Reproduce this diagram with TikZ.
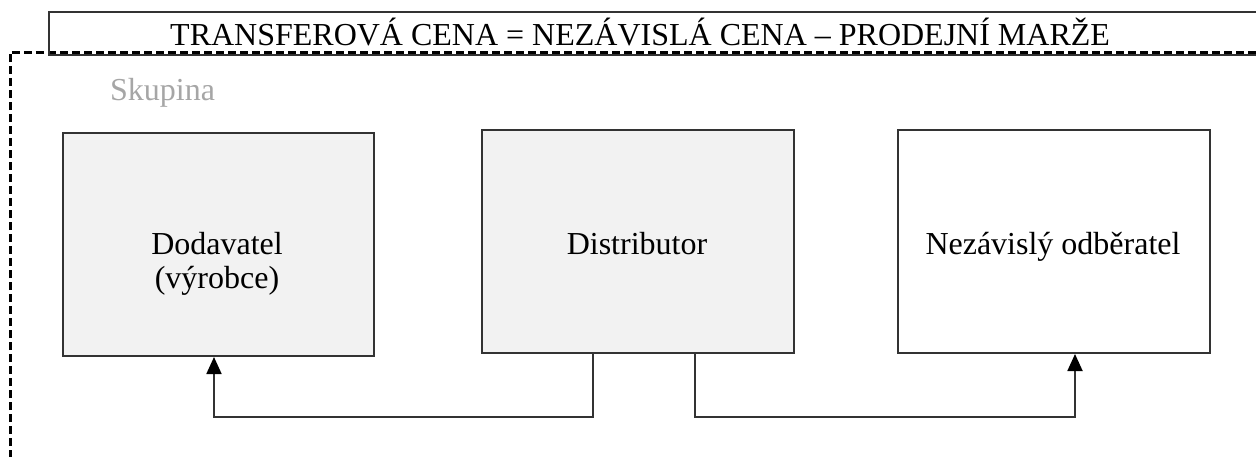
\documentclass[tikz,border=0pt]{standalone}
\usepackage{fontspec}
\setmainfont{Liberation Serif}
\usetikzlibrary{arrows.meta}
\definecolor{linegray}{HTML}{333333}
\definecolor{boxfill}{HTML}{F2F2F2}
\definecolor{labelgray}{HTML}{A6A6A6}
\tikzset{
  x=1pt, y=-1pt,
  entity/.style={draw=linegray, line width=2pt, inner sep=0pt, anchor=north west},
  grouped/.style={entity, fill=boxfill},
  boxtext/.style={font=\fontsize{32}{34}\selectfont, align=center, inner sep=0pt},
  flow/.style={draw=linegray, line width=1.8pt},
  flowarrow/.style={flow, -{Triangle[width=15pt,length=17pt,color=black]}},
  groupframe/.style={draw=black, line width=3pt, dash pattern=on 8pt off 4pt},
  titlebox/.style={draw=linegray, line width=1.8pt, inner sep=0pt, anchor=north west}
}
\begin{document}
\begin{tikzpicture}
\useasboundingbox (0,0) rectangle (1256,456);
% group frame
\coordinate (gbl) at (10,470);
\coordinate (gtl) at (10,52);
\coordinate (gtr) at (1270,52);
\draw[groupframe] (gbl) -- (gtl) -- (gtr);
% title
\node[titlebox, minimum width=1230pt, minimum height=43pt] (title) at (48,11) {};
\node[font=\fontsize{32}{38}\selectfont, anchor=base west, inner sep=0pt] (titletext) at (170,45) {TRANSFEROVÁ CENA = NEZÁVISLÁ CENA – PRODEJNÍ MARŽE};
% group label
\node[font=\fontsize{32}{38}\selectfont, text=labelgray, anchor=base west, inner sep=0pt] (skupina) at (110,100) {Skupina};
% boxes
\node[grouped, minimum width=311pt, minimum height=223pt] (dod) at (62,132) {};
\node[grouped, minimum width=312pt, minimum height=223pt] (dist) at (481,129) {};
\node[entity, minimum width=312pt, minimum height=223pt] (odb) at (897,129) {};
% texts
\node[boxtext, anchor=base] (dodtxt) at (217,288) {Dodavatel\\(výrobce)};
\node[boxtext, anchor=base] (disttxt) at (637,254) {Distributor};
\node[boxtext, anchor=base] (odbtxt) at (1053,254) {Nezávislý odběratel};
% connectors
\coordinate (c1) at (593,417);
\coordinate (c2) at (695,417);
\draw[flowarrow] (dist.south -| c1) |- (c1) -| (dod.south -| 214,0);
\draw[flowarrow] (dist.south -| c2) |- (c2) -| (odb.south -| 1075,0);
\end{tikzpicture}
\end{document}
